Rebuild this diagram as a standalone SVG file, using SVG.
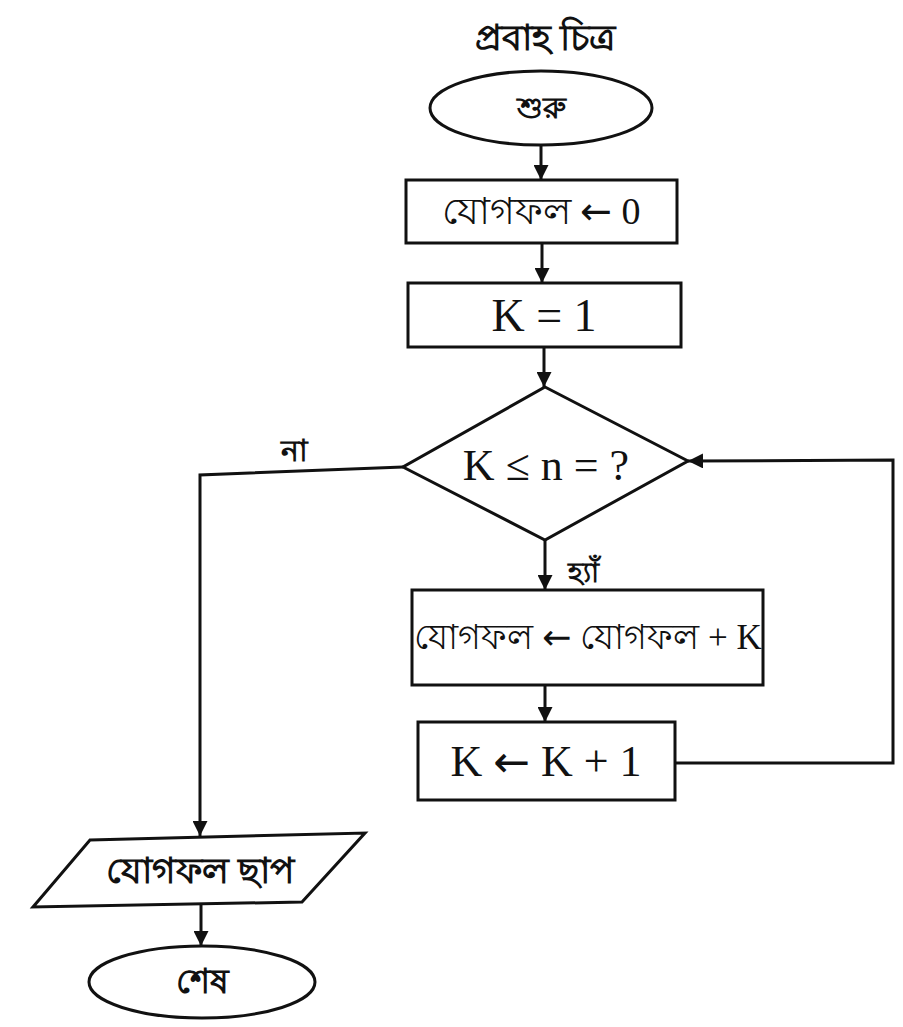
<svg xmlns="http://www.w3.org/2000/svg" width="903" height="1027" viewBox="0 0 903 1027">
<style>
.s{fill:#fff;stroke:#111;stroke-width:3;stroke-linejoin:miter}
.c{fill:none;stroke:#111;stroke-width:3}
.t{font-family:"Liberation Serif","Noto Sans",serif;fill:#111;text-anchor:middle;dominant-baseline:central}
.b{font-family:"Noto Sans","Liberation Sans",sans-serif;fill:#111;text-anchor:middle;dominant-baseline:central;font-weight:bold}
.a{font-family:"DejaVu Sans",sans-serif}
</style>
<defs>
<marker id="ah" viewBox="0 0 10 10" refX="10" refY="5" markerWidth="5" markerHeight="5" markerUnits="strokeWidth" orient="auto">
<path d="M0,0 L10,5 L0,10 Z" fill="#111"/>
</marker>
</defs>
<rect width="903" height="1027" fill="#fff"/>
<text class="b" x="545" y="36" font-size="36">প্রবাহ চিত্র</text>
<g id="connectors">
<line class="c" x1="541" y1="145" x2="541" y2="180" marker-end="url(#ah)"/>
<line class="c" x1="542" y1="243" x2="542" y2="283" marker-end="url(#ah)"/>
<line class="c" x1="544" y1="347" x2="544" y2="387" marker-end="url(#ah)"/>
<line class="c" x1="545" y1="540" x2="545" y2="590" marker-end="url(#ah)"/>
<line class="c" x1="545" y1="685" x2="545" y2="722" marker-end="url(#ah)"/>
<polyline class="c" points="675,763 893,763 893,460 688,461" marker-end="url(#ah)"/>
<polyline class="c" points="403,467 200,475 200,836" marker-end="url(#ah)"/>
<line class="c" x1="201" y1="905" x2="201" y2="946" marker-end="url(#ah)"/>
<text class="b" x="294" y="449" font-size="30">না</text>
<text class="b" x="583" y="571" font-size="28">হ্যাঁ</text>
</g>
<g id="start">
<ellipse class="s" cx="541" cy="108" rx="111" ry="37"/>
<text class="b" x="541" y="106" font-size="30">শুরু</text>
</g>
<g id="init-sum">
<rect class="s" x="406" y="180" width="271" height="63"/>
<text class="t" x="541" y="211" font-size="38">যোগফল <tspan class="a">←</tspan> 0</text>
</g>
<g id="init-k">
<rect class="s" x="408" y="283" width="273" height="64"/>
<text class="t" x="544" y="315" font-size="46">K = 1</text>
</g>
<g id="decision">
<polygon class="s" points="545,387 688,461 545,540 403,467"/>
<text class="t" x="546" y="465" font-size="44">K ≤ n = ?</text>
</g>
<g id="add">
<rect class="s" x="412" y="590" width="351" height="95"/>
<text class="t" x="588" y="637" font-size="35">যোগফল <tspan class="a">←</tspan> যোগফল + K</text>
</g>
<g id="incr">
<rect class="s" x="418" y="722" width="257" height="78"/>
<text class="t" x="546" y="761" font-size="44">K <tspan class="a">←</tspan> K + 1</text>
</g>
<g id="print">
<polygon class="s" points="90,840 365,833 302,902 33,907"/>
<text class="b" x="200" y="869" font-size="36">যোগফল ছাপ</text>
</g>
<g id="end">
<ellipse class="s" cx="202" cy="982" rx="113" ry="36"/>
<text class="b" x="202" y="980" font-size="34">শেষ</text>
</g>
</svg>
